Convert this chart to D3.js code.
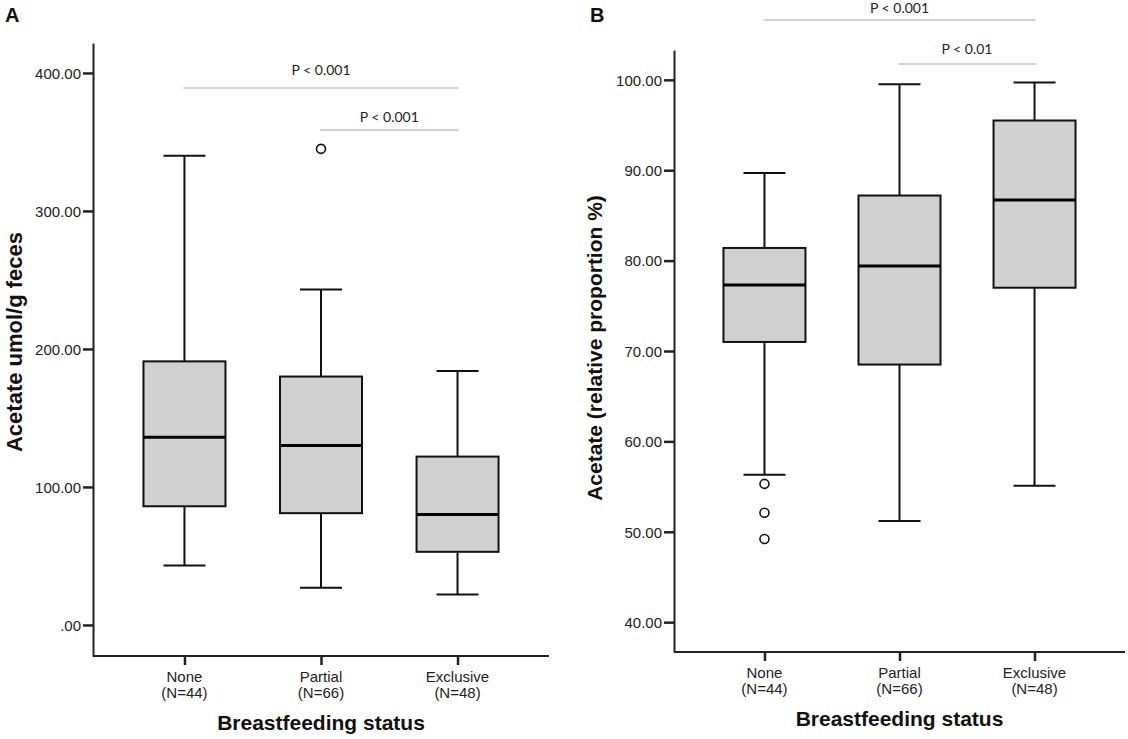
<!DOCTYPE html>
<html>
<head>
<meta charset="utf-8">
<script src="https://cdn.jsdelivr.net/npm/d3@7"></script>
<style>
    body { margin: 0; background: #fff; }
    svg { display: block; }
    .tickText { font-family: "Liberation Sans", Arial, sans-serif; font-size: 15px; fill: #222; }
    .axisTitle { font-family: "Liberation Sans", Arial, sans-serif; font-size: 21px; font-weight: bold; fill: #111; }
    .panelLabel { font-family: "Liberation Sans", Arial, sans-serif; font-size: 20px; font-weight: bold; fill: #111; }
    .pText { font-family: Lato, "Open Sans", sans-serif; font-size: 14px; fill: #222; }
</style>
</head>
<body>
<div id="chart"></div>
<script>
//--------------------------------------------------
// 데이터
//--------------------------------------------------

const categories = ["None", "Partial", "Exclusive"];
const sampleSizes = [44, 66, 48];

// A: Acetate umol/g feces
const absMin = [43, 27, 22];
const absQ1 = [86, 81, 53];
const absMedian = [136, 130, 80];
const absQ3 = [191, 180, 122];
const absMax = [340, 243, 184];
const absOutliers = [[], [345], []];
const absTicks = [0, 100, 200, 300, 400];

// B: Acetate (relative proportion %)
const relMin = [56.3, 51.2, 55.1];
const relQ1 = [71.0, 68.5, 77.0];
const relMedian = [77.3, 79.4, 86.7];
const relQ3 = [81.4, 87.2, 95.5];
const relMax = [89.7, 99.5, 99.7];
const relOutliers = [[55.3, 52.1, 49.2], [], []];
const relTicks = [40, 50, 60, 70, 80, 90, 100];

// 유의성 표시 [시작 그룹, 끝 그룹, 텍스트]
const absSig = [["None", "Exclusive", "P < 0.001"], ["Partial", "Exclusive", "P < 0.001"]];
const relSig = [["None", "Exclusive", "P < 0.001"], ["Partial", "Exclusive", "P < 0.01"]];

//--------------------------------------------------
// 그리기
//--------------------------------------------------

const width = 1128;
const height = 739;
const boxColor = "#d0d0d0";
const sigColor = "#d2d2d2";

let svg = d3.select("#chart")
    .append("svg")
    .attr("width", width)
    .attr("height", height);

function fmtTick(d) {
    // SPSS 스타일: 0 -> ".00"
    return d === 0 ? ".00" : d.toFixed(2);
}

function drawPanel(opt) {
    let g = svg.append("g");

    let x = d3.scalePoint()
        .domain(categories)
        .range([opt.left, opt.right])
        .padding(0.67);

    let y = d3.scaleLinear()
        .domain(opt.domain)
        .range([opt.bottom, opt.top]);

    let stats = categories.map((c, i) => ({
        cat: c,
        min: opt.min[i], q1: opt.q1[i], median: opt.median[i],
        q3: opt.q3[i], max: opt.max[i], outliers: opt.outliers[i]
    }));

    // y축
    let yAxis = g.append("g")
        .attr("transform", `translate(${opt.left},0)`)
        .call(d3.axisLeft(y).tickValues(opt.ticks).tickFormat(fmtTick)
            .tickSize(10).tickSizeOuter(0).tickPadding(2));
    yAxis.attr("font-size", null).attr("font-family", null);
    yAxis.select(".domain").attr("stroke", "#222").attr("stroke-width", 2);
    yAxis.selectAll(".tick line").attr("stroke", "#222").attr("stroke-width", 2.5);
    yAxis.selectAll(".tick text")
        .attr("class", "tickText")
        .attr("dy", "0.35em")
        .style("font-size", "15px");

    // x축
    let xAxis = g.append("g")
        .attr("transform", `translate(0,${opt.bottom})`)
        .call(d3.axisBottom(x).tickSize(9).tickSizeOuter(0).tickFormat(""));
    xAxis.select(".domain")
        .attr("d", `M${opt.left},0H${opt.right}`)
        .attr("stroke", "#222").attr("stroke-width", 2);
    xAxis.selectAll(".tick line").attr("stroke", "#222").attr("stroke-width", 2.5);

    let catText = g.append("g")
        .selectAll("text")
        .data(categories)
        .enter()
        .append("text")
        .attr("class", "tickText")
        .attr("text-anchor", "middle")
        .attr("x", (d) => x(d));
    catText.append("tspan").attr("x", (d) => x(d)).attr("y", opt.bottom + 26).text((d) => d);
    catText.append("tspan").attr("x", (d) => x(d)).attr("y", opt.bottom + 42)
        .text((d, i) => `(N=${sampleSizes[i]})`);

    // 축 제목
    g.append("text")
        .attr("class", "axisTitle")
        .attr("text-anchor", "middle")
        .attr("x", (x(categories[0]) + x(categories[2])) / 2)
        .attr("y", opt.bottom + 74)
        .text("Breastfeeding status");

    g.append("text")
        .attr("class", "axisTitle")
        .attr("text-anchor", "middle")
        .style("font-size", opt.titleSize)
        .attr("transform", `translate(${opt.titleX},${opt.titleY}) rotate(-90)`)
        .text(opt.yTitle);

    g.append("text")
        .attr("class", "panelLabel")
        .attr("x", opt.labelX)
        .attr("y", 22)
        .text(opt.label);

    // 박스플롯
    let boxW = 82;
    let capW = 42;
    let box = g.append("g")
        .selectAll(".boxGroup")
        .data(stats)
        .enter()
        .append("g")
        .attr("class", "boxGroup");

    box.append("line") // 위 수염
        .attr("x1", (d) => x(d.cat)).attr("x2", (d) => x(d.cat))
        .attr("y1", (d) => y(d.max)).attr("y2", (d) => y(d.q3))
        .attr("stroke", "#111").attr("stroke-width", 2);
    box.append("line") // 아래 수염
        .attr("x1", (d) => x(d.cat)).attr("x2", (d) => x(d.cat))
        .attr("y1", (d) => y(d.q1)).attr("y2", (d) => y(d.min))
        .attr("stroke", "#111").attr("stroke-width", 2);
    box.append("line")
        .attr("x1", (d) => x(d.cat) - capW / 2).attr("x2", (d) => x(d.cat) + capW / 2)
        .attr("y1", (d) => y(d.max)).attr("y2", (d) => y(d.max))
        .attr("stroke", "#111").attr("stroke-width", 2);
    box.append("line")
        .attr("x1", (d) => x(d.cat) - capW / 2).attr("x2", (d) => x(d.cat) + capW / 2)
        .attr("y1", (d) => y(d.min)).attr("y2", (d) => y(d.min))
        .attr("stroke", "#111").attr("stroke-width", 2);
    box.append("rect")
        .attr("x", (d) => x(d.cat) - boxW / 2)
        .attr("width", boxW)
        .attr("y", (d) => y(d.q3))
        .attr("height", (d) => y(d.q1) - y(d.q3))
        .attr("fill", boxColor)
        .attr("stroke", "#111").attr("stroke-width", 2);
    box.append("line") // 중앙값
        .attr("x1", (d) => x(d.cat) - boxW / 2).attr("x2", (d) => x(d.cat) + boxW / 2)
        .attr("y1", (d) => y(d.median)).attr("y2", (d) => y(d.median))
        .attr("stroke", "#000").attr("stroke-width", 3);

    // 이상치
    box.selectAll("circle")
        .data((d) => d.outliers.map((v) => ({ cat: d.cat, v: v })))
        .enter()
        .append("circle")
        .attr("cx", (d) => x(d.cat))
        .attr("cy", (d) => y(d.v))
        .attr("r", 4.5)
        .attr("fill", "#fff")
        .attr("stroke", "#111").attr("stroke-width", 1.6);

    // 유의성 선
    opt.sig.forEach((s, i) => {
        let yy = opt.sigY[i];
        g.append("line")
            .attr("x1", x(s[0]) - 1).attr("x2", x(s[1]) + 1)
            .attr("y1", yy).attr("y2", yy)
            .attr("stroke", sigColor).attr("stroke-width", 2);
        g.append("text")
            .attr("class", "pText")
            .attr("text-anchor", "middle")
            .attr("x", (x(s[0]) + x(s[1])) / 2)
            .attr("y", opt.sigTextY[i])
            .text(s[2]);
    });
}

drawPanel({
    label: "A", labelX: 5,
    left: 93, right: 549, top: 43, bottom: 656,
    domain: [-22.5, 421.7],
    min: absMin, q1: absQ1, median: absMedian, q3: absQ3, max: absMax,
    outliers: absOutliers, ticks: absTicks,
    yTitle: "Acetate umol/g feces", titleX: 22, titleY: 342, titleSize: "22px",
    sig: absSig, sigY: [88, 130], sigTextY: [75, 122]
});

drawPanel({
    label: "B", labelX: 590,
    left: 674, right: 1125, top: 50, bottom: 652,
    domain: [36.7, 103.3],
    min: relMin, q1: relQ1, median: relMedian, q3: relQ3, max: relMax,
    outliers: relOutliers, ticks: relTicks,
    yTitle: "Acetate (relative proportion %)", titleX: 602, titleY: 348, titleSize: "21px",
    sig: relSig, sigY: [20, 64], sigTextY: [13, 54]
});
</script>
</body>
</html>
